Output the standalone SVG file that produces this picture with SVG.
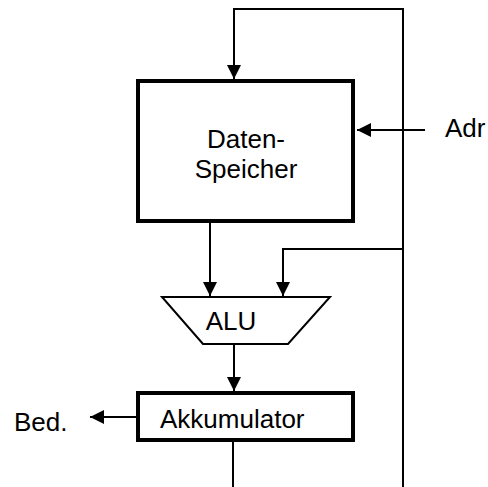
<svg xmlns="http://www.w3.org/2000/svg" width="488" height="487" viewBox="0 0 488 487">
<style>
.ln{fill:none;stroke:#000;stroke-width:2}
.box{fill:#fff;stroke:#000;stroke-width:4}
.t{font-family:"Liberation Sans",Arial,sans-serif;font-size:26px;fill:#000}
</style>
<defs>
<marker id="ah" markerUnits="userSpaceOnUse" markerWidth="16" markerHeight="16" viewBox="0 0 16 16" refX="15" refY="8" orient="auto">
<path d="M1,1 L15,8 L1,15 Z" fill="#000"/>
</marker>
</defs>
<rect width="488" height="487" fill="#fff"/>
<g id="connectors">
<polyline class="ln" points="403,487 403,9 234,9 234,79" marker-end="url(#ah)"/>
<polyline class="ln" points="425,130 357,130" marker-end="url(#ah)"/>
<polyline class="ln" points="210,223 210,296" marker-end="url(#ah)"/>
<polyline class="ln" points="403,249 283,249 283,296" marker-end="url(#ah)"/>
<polyline class="ln" points="234,344 234,391" marker-end="url(#ah)"/>
<polyline class="ln" points="136,417 90,417" marker-end="url(#ah)"/>
<polyline class="ln" points="233,442 233,487"/>
</g>
<g id="speicher">
<rect class="box" x="138" y="81" width="215" height="140"/>
<text class="t" x="246" y="148" text-anchor="middle">Daten-</text>
<text class="t" x="246" y="178" text-anchor="middle">Speicher</text>
</g>
<g id="adr">
<text class="t" x="445" y="137">Adr</text>
</g>
<g id="alu">
<polygon class="ln" points="162,297 330,297 288,344 203,344" fill="#fff"/>
<text class="t" x="231" y="330" text-anchor="middle">ALU</text>
</g>
<g id="akkumulator">
<rect class="box" x="138" y="393" width="215" height="47"/>
<text class="t" x="160" y="428">Akkumulator</text>
</g>
<g id="bed">
<text class="t" x="14" y="431">Bed.</text>
</g>
</svg>
